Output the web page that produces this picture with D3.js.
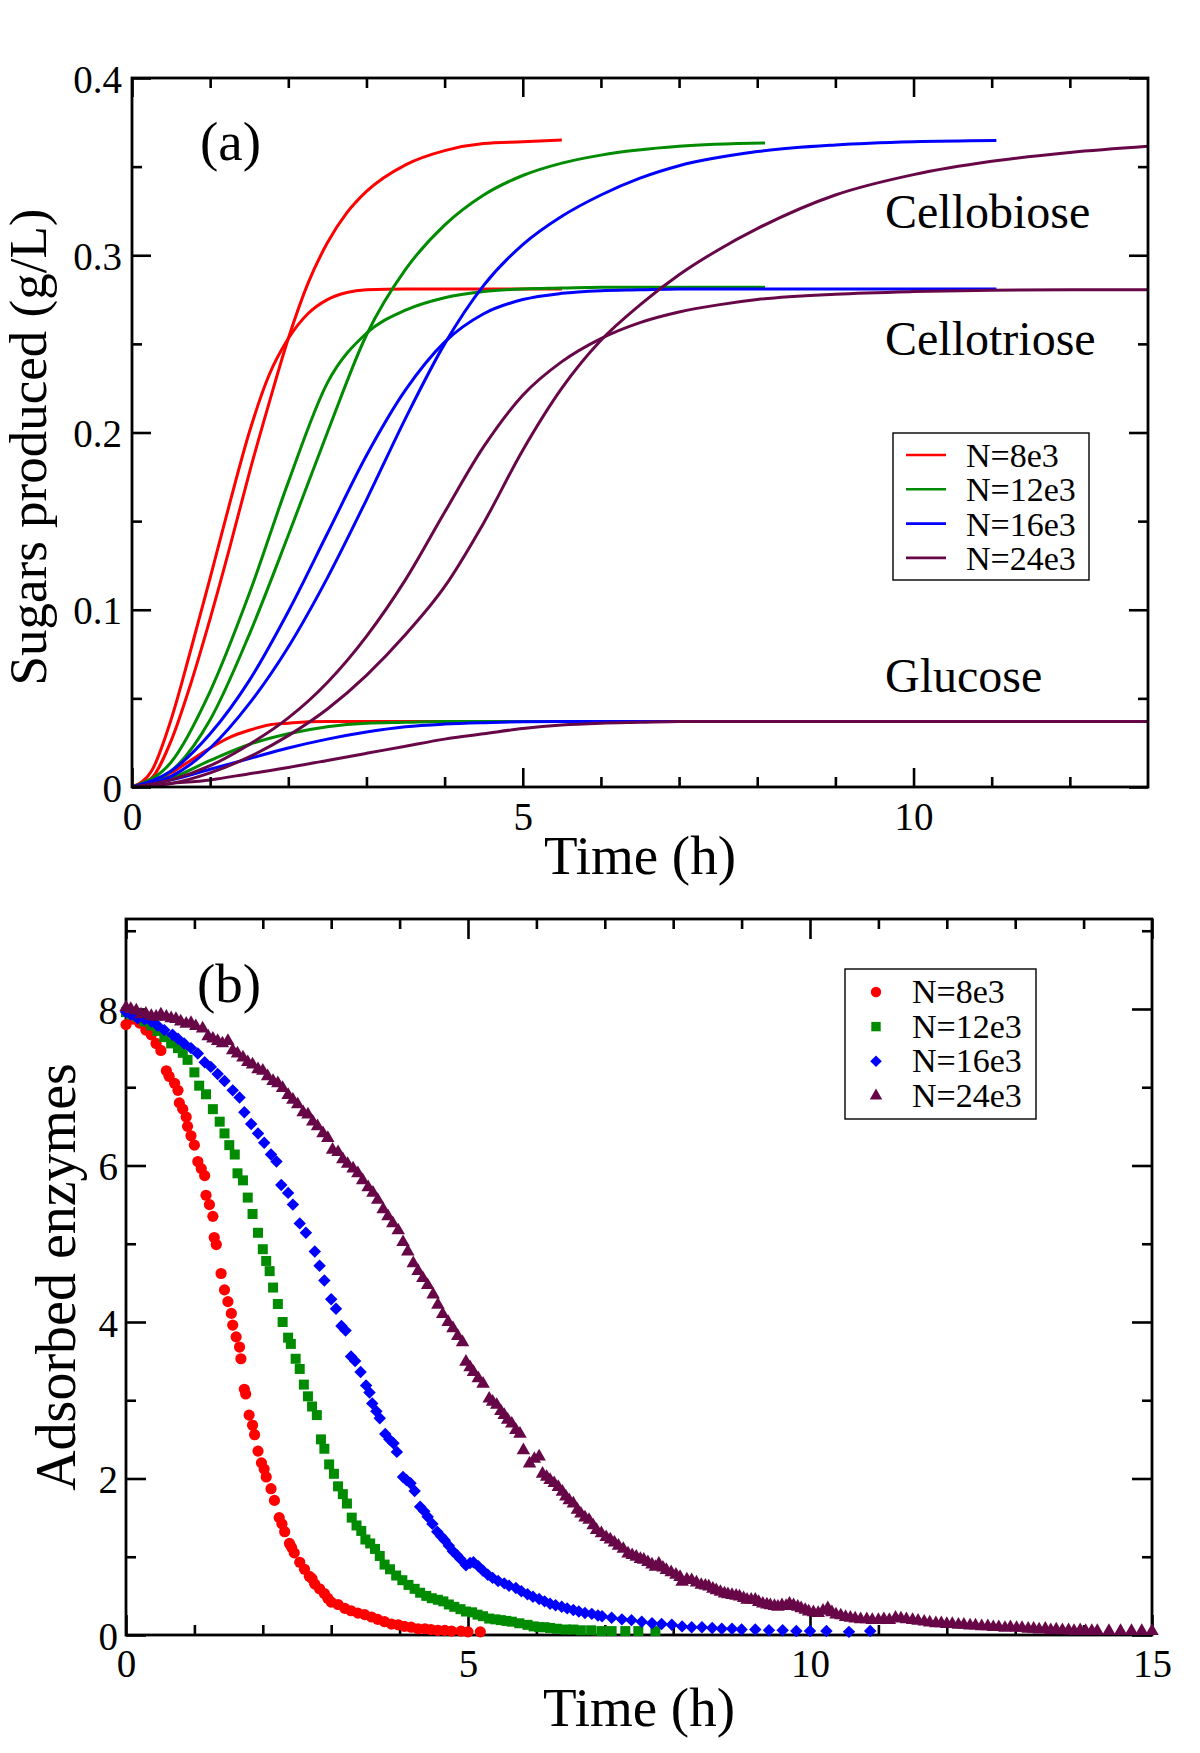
<!DOCTYPE html>
<html><head><meta charset="utf-8">
<script src="https://cdn.jsdelivr.net/npm/d3@7"></script>
<style>
html,body{margin:0;padding:0;background:#fff;}
svg{display:block;}
text{font-family:"Liberation Serif","Times New Roman",serif;fill:#000;}
</style></head><body>
<svg id="chart" width="1200" height="1753"></svg>
<script>
// ---------------- DATA ----------------
const seriesLabels = ["N=8e3", "N=12e3", "N=16e3", "N=24e3"];
const seriesColors = ["#ff0000", "#008b00", "#0000ff", "#670748"];

// Panel (a): sugars produced (g/L) vs time (h)
const timeN8  = [0,0.25,0.5,0.75,1,1.25,1.5,1.75,2,2.25,2.5,2.75,3,3.5,4,4.5,5,5.5];
const cellobioseN8  = [0,0.005,0.026,0.058,0.095,0.135,0.177,0.216,0.253,0.284,0.307,0.324,0.336,0.351,0.359,0.363,0.364,0.365];
const cellotrioseN8 = [0,0.009,0.038,0.077,0.118,0.16,0.2,0.232,0.253,0.267,0.275,0.279,0.2805,0.281,0.281,0.281,0.281,0.281];
const glucoseN8     = [0,0.002,0.008,0.015,0.022,0.028,0.032,0.035,0.036,0.0368,0.037,0.037,0.037,0.037,0.037,0.037,0.037,0.037];

const timeN12 = [0,0.5,1,1.5,2,2.5,3,3.5,4,4.5,5,5.5,6,7,8.1];
const cellobioseN12  = [0,0.009,0.038,0.086,0.142,0.2,0.255,0.292,0.317,0.334,0.345,0.352,0.3565,0.3615,0.3633];
const cellotrioseN12 = [0,0.014,0.054,0.109,0.172,0.228,0.256,0.269,0.276,0.2795,0.281,0.2815,0.282,0.282,0.282];
const glucoseN12     = [0,0.005,0.015,0.024,0.03,0.034,0.036,0.0365,0.037,0.037,0.037,0.037,0.037,0.037,0.037];

const timeN16 = [0,0.5,1,1.5,2,2.5,3,3.5,4,4.5,5,5.5,6,6.5,7,8,9,10,11.06];
const cellobioseN16  = [0,0.006,0.022,0.047,0.079,0.118,0.162,0.208,0.25,0.283,0.306,0.322,0.334,0.3435,0.3505,0.3585,0.3622,0.364,0.3647];
const cellotrioseN16 = [0,0.009,0.03,0.06,0.099,0.143,0.187,0.224,0.251,0.267,0.275,0.2785,0.28,0.2805,0.281,0.281,0.281,0.281,0.281];
const glucoseN16     = [0,0.004,0.01,0.016,0.022,0.027,0.031,0.034,0.0355,0.0363,0.0368,0.037,0.037,0.037,0.037,0.037,0.037,0.037,0.037];

const timeN24 = [0,0.5,1,1.5,2,2.5,3,3.5,4,4.5,5,5.5,6,6.5,7,7.5,8,9,10,11,12,13];
const cellobioseN24  = [0,0.002,0.008,0.017,0.029,0.044,0.063,0.086,0.113,0.149,0.19,0.225,0.252,0.272,0.289,0.303,0.315,0.334,0.3455,0.353,0.358,0.3615];
const cellotrioseN24 = [0,0.004,0.012,0.024,0.039,0.059,0.085,0.117,0.155,0.192,0.221,0.24,0.253,0.262,0.268,0.272,0.275,0.278,0.2795,0.2803,0.2805,0.2805];
const glucoseN24     = [0,0.002,0.004,0.0075,0.011,0.015,0.019,0.023,0.027,0.03,0.033,0.035,0.036,0.0365,0.037,0.037,0.037,0.037,0.037,0.037,0.037,0.037];

const xTicksA = [0,5,10];
const xMinorA = [1,2,3,4,6,7,8,9,11,12];
const yTicksA = [0,0.1,0.2,0.3,0.4];
const yTickLabelsA = ["0","0.1","0.2","0.3","0.4"];
const yMinorA = [0.05,0.15,0.25,0.35];

// Panel (b): adsorbed enzymes vs time (h), [time, value]
const adsorbedN8 = [[0,7.8],[0.1,7.87],[0.2,7.82],[0.29,7.73],[0.37,7.67],[0.44,7.56],[0.51,7.47],[0.59,7.21],[0.63,7.14],[0.71,7.05],[0.76,6.96],[0.78,6.8],[0.83,6.72],[0.88,6.62],[0.9,6.5],[0.95,6.38],[1.0,6.26],[1.05,6.05],[1.1,5.96],[1.15,5.87],[1.17,5.62],[1.22,5.5],[1.27,5.35],[1.29,5.08],[1.32,4.99],[1.39,4.62],[1.44,4.41],[1.49,4.26],[1.54,4.11],[1.56,3.96],[1.61,3.81],[1.66,3.68],[1.68,3.53],[1.73,3.14],[1.75,3.08],[1.8,2.81],[1.85,2.68],[1.88,2.56],[1.93,2.35],[1.98,2.2],[2.02,2.12],[2.05,2.02],[2.12,1.87],[2.17,1.72],[2.24,1.5],[2.28,1.42],[2.32,1.32],[2.39,1.17],[2.42,1.12],[2.46,1.05],[2.54,0.93],[2.61,0.84],[2.68,0.75],[2.72,0.72],[2.76,0.65],[2.83,0.59],[2.9,0.53],[2.95,0.47],[3.0,0.42],[3.1,0.39],[3.2,0.34],[3.29,0.31],[3.39,0.28],[3.49,0.26],[3.59,0.23],[3.68,0.2],[3.78,0.17],[3.88,0.14],[3.98,0.13],[4.07,0.11],[4.17,0.1],[4.27,0.08],[4.37,0.08],[4.46,0.07],[4.56,0.06],[4.66,0.06],[4.76,0.05],[4.9,0.05],[5.0,0.04],[5.18,0.04]];
const adsorbedN12 = [[0,7.96],[0.07,7.93],[0.17,7.9],[0.27,7.84],[0.37,7.79],[0.46,7.72],[0.56,7.64],[0.66,7.56],[0.76,7.5],[0.83,7.44],[0.9,7.35],[1.0,7.19],[1.07,7.02],[1.17,6.91],[1.27,6.72],[1.37,6.56],[1.44,6.41],[1.51,6.26],[1.59,6.14],[1.63,5.9],[1.71,5.81],[1.78,5.59],[1.85,5.38],[1.93,5.14],[2.0,4.93],[2.05,4.78],[2.1,4.65],[2.15,4.44],[2.22,4.23],[2.29,4.0],[2.37,3.8],[2.41,3.72],[2.48,3.53],[2.54,3.4],[2.6,3.2],[2.66,3.05],[2.72,2.92],[2.79,2.81],[2.85,2.5],[2.9,2.38],[2.97,2.18],[3.04,2.06],[3.1,1.9],[3.17,1.8],[3.23,1.68],[3.3,1.5],[3.37,1.4],[3.44,1.33],[3.5,1.22],[3.57,1.17],[3.64,1.1],[3.71,1.01],[3.78,0.9],[3.86,0.84],[3.95,0.76],[4.04,0.7],[4.13,0.64],[4.22,0.59],[4.3,0.54],[4.39,0.5],[4.47,0.47],[4.56,0.45],[4.64,0.43],[4.72,0.39],[4.8,0.36],[4.89,0.33],[4.97,0.3],[5.06,0.29],[5.14,0.26],[5.22,0.24],[5.31,0.21],[5.4,0.2],[5.48,0.19],[5.56,0.18],[5.64,0.17],[5.75,0.15],[5.87,0.13],[5.96,0.11],[6.04,0.1],[6.12,0.1],[6.2,0.09],[6.3,0.08],[6.43,0.07],[6.54,0.07],[6.65,0.06],[6.8,0.06],[6.95,0.05],[7.1,0.05],[7.3,0.05],[7.49,0.05],[7.74,0.05]];
const adsorbedN16 = [[0,7.96],[0.07,7.93],[0.17,7.88],[0.27,7.87],[0.37,7.84],[0.46,7.79],[0.56,7.73],[0.68,7.67],[0.76,7.62],[0.85,7.56],[0.95,7.5],[1.05,7.43],[1.15,7.32],[1.24,7.26],[1.34,7.17],[1.44,7.08],[1.56,6.96],[1.66,6.87],[1.73,6.68],[1.83,6.53],[1.93,6.41],[2.02,6.29],[2.12,6.14],[2.2,6.05],[2.27,5.75],[2.37,5.65],[2.44,5.5],[2.54,5.26],[2.63,5.14],[2.76,4.9],[2.83,4.72],[2.9,4.53],[3.0,4.29],[3.07,4.17],[3.15,3.95],[3.21,3.89],[3.29,3.56],[3.35,3.5],[3.43,3.36],[3.51,3.19],[3.56,3.1],[3.6,2.96],[3.66,2.86],[3.71,2.77],[3.79,2.57],[3.85,2.5],[3.91,2.45],[3.96,2.34],[4.05,2.02],[4.1,1.98],[4.16,1.94],[4.22,1.84],[4.3,1.64],[4.36,1.58],[4.41,1.51],[4.48,1.42],[4.55,1.32],[4.61,1.26],[4.66,1.21],[4.72,1.14],[4.78,1.07],[4.84,1.02],[4.89,0.97],[4.97,0.89],[5.03,0.92],[5.08,0.93],[5.15,0.88],[5.22,0.82],[5.29,0.77],[5.36,0.73],[5.44,0.69],[5.53,0.66],[5.6,0.63],[5.7,0.6],[5.78,0.56],[5.87,0.52],[5.95,0.49],[6.04,0.46],[6.12,0.43],[6.2,0.4],[6.28,0.38],[6.37,0.36],[6.45,0.34],[6.54,0.32],[6.62,0.3],[6.71,0.28],[6.81,0.27],[6.9,0.25],[6.96,0.24],[7.1,0.22],[7.25,0.2],[7.39,0.19],[7.54,0.17],[7.69,0.15],[7.83,0.14],[7.98,0.13],[8.13,0.11],[8.27,0.1],[8.42,0.1],[8.57,0.09],[8.71,0.08],[8.86,0.08],[9.0,0.07],[9.2,0.07],[9.4,0.06],[9.6,0.06],[9.8,0.05],[10.0,0.05],[10.24,0.05],[10.57,0.04],[10.88,0.05]];
const adsorbedN24 = [[0,8.02],[0.07,8.0],[0.15,7.98],[0.22,7.93],[0.29,7.94],[0.37,7.91],[0.44,7.9],[0.51,7.93],[0.59,7.9],[0.66,7.88],[0.73,7.87],[0.8,7.84],[0.88,7.81],[0.95,7.82],[1.02,7.78],[1.12,7.75],[1.2,7.65],[1.27,7.62],[1.34,7.59],[1.41,7.56],[1.49,7.59],[1.56,7.47],[1.63,7.43],[1.71,7.38],[1.78,7.32],[1.85,7.29],[1.93,7.23],[2.0,7.21],[2.07,7.14],[2.15,7.08],[2.22,7.05],[2.29,6.99],[2.37,6.9],[2.44,6.84],[2.51,6.78],[2.59,6.68],[2.66,6.65],[2.73,6.56],[2.8,6.5],[2.88,6.41],[2.95,6.35],[3.02,6.2],[3.1,6.17],[3.17,6.08],[3.24,6.02],[3.32,5.96],[3.39,5.9],[3.46,5.81],[3.54,5.72],[3.61,5.65],[3.68,5.56],[3.76,5.44],[3.83,5.35],[3.9,5.26],[3.98,5.17],[4.05,5.02],[4.12,4.9],[4.2,4.75],[4.27,4.65],[4.34,4.56],[4.41,4.47],[4.49,4.35],[4.56,4.22],[4.63,4.1],[4.71,4.0],[4.78,3.92],[4.85,3.82],[4.92,3.74],[4.97,3.49],[5.03,3.42],[5.08,3.36],[5.15,3.28],[5.22,3.21],[5.31,3.02],[5.36,2.98],[5.42,2.94],[5.48,2.86],[5.53,2.81],[5.58,2.75],[5.64,2.7],[5.7,2.62],[5.76,2.57],[5.81,2.36],[5.9,2.19],[5.97,2.25],[6.04,2.28],[6.09,2.06],[6.15,2.02],[6.2,1.98],[6.26,1.94],[6.32,1.89],[6.38,1.83],[6.43,1.77],[6.48,1.72],[6.54,1.68],[6.6,1.6],[6.65,1.55],[6.71,1.5],[6.77,1.47],[6.83,1.4],[6.88,1.34],[6.95,1.3],[7.02,1.25],[7.08,1.22],[7.14,1.18],[7.2,1.14],[7.27,1.1],[7.34,1.04],[7.4,1.02],[7.46,1.0],[7.52,0.97],[7.57,0.96],[7.63,0.93],[7.69,0.9],[7.74,0.87],[7.79,0.91],[7.85,0.86],[7.9,0.83],[7.97,0.8],[8.04,0.77],[8.1,0.74],[8.13,0.68],[8.2,0.71],[8.27,0.7],[8.34,0.67],[8.41,0.64],[8.47,0.63],[8.52,0.62],[8.58,0.59],[8.63,0.57],[8.69,0.55],[8.75,0.53],[8.8,0.52],[8.86,0.51],[8.92,0.5],[8.97,0.49],[9.03,0.47],[9.08,0.45],[9.14,0.45],[9.2,0.45],[9.25,0.42],[9.31,0.4],[9.37,0.39],[9.42,0.38],[9.48,0.37],[9.53,0.36],[9.59,0.38],[9.65,0.37],[9.7,0.4],[9.76,0.38],[9.82,0.36],[9.87,0.34],[9.93,0.32],[9.98,0.3],[10.05,0.29],[10.12,0.28],[10.19,0.31],[10.26,0.34],[10.32,0.29],[10.38,0.26],[10.45,0.25],[10.52,0.23],[10.59,0.22],[10.66,0.21],[10.74,0.2],[10.83,0.2],[10.91,0.19],[11.0,0.19],[11.08,0.2],[11.16,0.19],[11.25,0.22],[11.33,0.21],[11.41,0.2],[11.5,0.19],[11.58,0.18],[11.67,0.17],[11.75,0.16],[11.84,0.15],[11.92,0.15],[12.0,0.14],[12.08,0.14],[12.17,0.13],[12.25,0.13],[12.34,0.12],[12.42,0.12],[12.51,0.11],[12.6,0.11],[12.68,0.1],[12.76,0.1],[12.85,0.09],[12.93,0.1],[13.02,0.09],[13.1,0.09],[13.19,0.08],[13.27,0.08],[13.35,0.07],[13.44,0.08],[13.52,0.06],[13.6,0.07],[13.69,0.06],[13.78,0.06],[13.86,0.05],[13.95,0.06],[14.03,0.05],[14.12,0.05],[14.2,0.05],[14.37,0.05],[14.54,0.05],[14.7,0.05],[14.85,0.05],[15.0,0.05]];

const xTicksB = [0,5,10,15];
const xMinorB = [1,2,3,4,6,7,8,9,11,12,13,14];
const yTicksB = [0,2,4,6,8];
const yMinorB = [1,3,5,7,9];

// ---------------- DRAWING ----------------
const svg = d3.select('#chart');
svg.append('rect').attr('width',1200).attr('height',1753).attr('fill','#fff');

function drawAxes(box, x, y, o) {
  const g = svg.append('g');
  const setup = sel => {
    sel.attr('font-size', null).attr('font-family', null);
    sel.select('.domain').remove();
    sel.selectAll('line').attr('stroke', '#000').attr('stroke-width', 2.6);
  };
  const b1 = g.append('g').attr('transform', `translate(0,${box.bottom})`)
    .call(d3.axisBottom(x).tickValues(o.xMajor).tickSize(-o.major).tickFormat(o.xFmt));
  setup(b1);
  b1.selectAll('text').attr('dy', null).attr('y', o.xLabelDy).style('font-size', o.tickFont + 'px');
  const b2 = g.append('g').attr('transform', `translate(0,${box.bottom})`)
    .call(d3.axisBottom(x).tickValues(o.xMinor).tickSize(-o.minor).tickFormat(''));
  setup(b2);
  const t1 = g.append('g').attr('transform', `translate(0,${box.top})`)
    .call(d3.axisTop(x).tickValues(o.xMajor).tickSize(-o.major).tickFormat(''));
  setup(t1);
  const t2 = g.append('g').attr('transform', `translate(0,${box.top})`)
    .call(d3.axisTop(x).tickValues(o.xMinor).tickSize(-o.minor).tickFormat(''));
  setup(t2);
  const l1 = g.append('g').attr('transform', `translate(${box.left},0)`)
    .call(d3.axisLeft(y).tickValues(o.yMajor).tickSize(-o.major).tickPadding(o.yLabelPad).tickFormat(o.yFmt));
  setup(l1);
  l1.selectAll('text').attr('dy', '0.36em').style('font-size', o.tickFont + 'px');
  const l2 = g.append('g').attr('transform', `translate(${box.left},0)`)
    .call(d3.axisLeft(y).tickValues(o.yMinor).tickSize(-o.minor).tickFormat(''));
  setup(l2);
  const r1 = g.append('g').attr('transform', `translate(${box.right},0)`)
    .call(d3.axisRight(y).tickValues(o.yMajor).tickSize(-o.major).tickFormat(''));
  setup(r1);
  const r2 = g.append('g').attr('transform', `translate(${box.right},0)`)
    .call(d3.axisRight(y).tickValues(o.yMinor).tickSize(-o.minor).tickFormat(''));
  setup(r2);
  g.append('rect').attr('x', box.left).attr('y', box.top)
    .attr('width', box.right - box.left).attr('height', box.bottom - box.top)
    .attr('fill', 'none').attr('stroke', '#000').attr('stroke-width', 2.8);
}

// ---- Panel (a) ----
const A = {left:132, right:1148, top:78, bottom:787};
const xA = d3.scaleLinear().domain([0,13]).range([A.left, A.right]);
const yA = d3.scaleLinear().domain([0,0.4]).range([A.bottom, A.top]);

const curvesA = [
  {t: timeN8,  sets: [glucoseN8,  cellotrioseN8,  cellobioseN8]},
  {t: timeN12, sets: [glucoseN12, cellotrioseN12, cellobioseN12]},
  {t: timeN16, sets: [glucoseN16, cellotrioseN16, cellobioseN16]},
  {t: timeN24, sets: [glucoseN24, cellotrioseN24, cellobioseN24]}
];
const lineA = d3.line().x(d => xA(d[0])).y(d => yA(d[1])).curve(d3.curveMonotoneX);
const gA = svg.append('g');
curvesA.forEach((c, i) => {
  c.sets.forEach(vals => {
    const pts = c.t.map((t, k) => [t, vals[k]]);
    gA.append('path').attr('d', lineA(pts)).attr('fill', 'none')
      .attr('stroke', seriesColors[i]).attr('stroke-width', 3).attr('stroke-linejoin', 'round');
  });
});

drawAxes(A, xA, yA, {
  xMajor: xTicksA, xMinor: xMinorA, yMajor: yTicksA, yMinor: yMinorA,
  xFmt: d => String(d), yFmt: (d, i) => yTickLabelsA[i],
  major: 19, minor: 10, tickFont: 39, xLabelDy: 43, yLabelPad: 10
});

const legA = svg.append('g');
legA.append('rect').attr('x', 893).attr('y', 433).attr('width', 196).attr('height', 147)
  .attr('fill', '#fff').attr('stroke', '#000').attr('stroke-width', 1.4);
seriesLabels.forEach((lab, i) => {
  const yy = 455 + i * 34.3;
  legA.append('line').attr('x1', 906).attr('x2', 946).attr('y1', yy).attr('y2', yy)
    .attr('stroke', seriesColors[i]).attr('stroke-width', 2.6);
  legA.append('text').attr('x', 966).attr('y', yy + 12).style('font-size', '34px').text(lab);
});

svg.append('text').attr('x', 200).attr('y', 160).style('font-size', '55px').text('(a)');
svg.append('text').attr('x', 885).attr('y', 228).style('font-size', '48px').text('Cellobiose');
svg.append('text').attr('x', 885).attr('y', 355).style('font-size', '48px').text('Cellotriose');
svg.append('text').attr('x', 885).attr('y', 692).style('font-size', '48px').text('Glucose');
svg.append('text').attr('x', 640).attr('y', 874).attr('text-anchor', 'middle').style('font-size', '55px').text('Time (h)');
svg.append('text').attr('transform', 'translate(46,447) rotate(-90)').attr('text-anchor', 'middle')
  .style('font-size', '53px').text('Sugars produced (g/L)');

// ---- Panel (b) ----
const B = {left:126, right:1152, top:919, bottom:1635};
const xB = d3.scaleLinear().domain([0,15]).range([B.left, B.right]);
const yB = d3.scaleLinear().domain([0,9.15]).range([B.bottom, B.top]);

const symbolsB = [
  d3.symbol().type(d3.symbolCircle).size(Math.PI * 5.6 * 5.6),
  d3.symbol().type(d3.symbolSquare).size(10 * 10),
  d3.symbol().type(d3.symbolSquare).size(8.8 * 8.8),
  d3.symbol().type(d3.symbolTriangle).size(13.5 * 13.5 * Math.sqrt(3) / 4)
];
const legendSymbolsB = [
  d3.symbol().type(d3.symbolCircle).size(Math.PI * 5.2 * 5.2),
  d3.symbol().type(d3.symbolSquare).size(9.4 * 9.4),
  d3.symbol().type(d3.symbolSquare).size(8.2 * 8.2),
  d3.symbol().type(d3.symbolTriangle).size(12.5 * 12.5 * Math.sqrt(3) / 4)
];
const rotB = [0, 0, 45, 0];
const dataB = [adsorbedN8, adsorbedN12, adsorbedN16, adsorbedN24];

drawAxes(B, xB, yB, {
  xMajor: xTicksB, xMinor: xMinorB, yMajor: yTicksB, yMinor: yMinorB,
  xFmt: d => String(d), yFmt: d => String(d),
  major: 20, minor: 10, tickFont: 39, xLabelDy: 42, yLabelPad: 8
});

const gB = svg.append('g');
dataB.forEach((ser, i) => {
  gB.append('g').selectAll('path').data(ser).join('path')
    .attr('d', symbolsB[i]())
    .attr('transform', d => `translate(${xB(d[0])},${yB(d[1])}) rotate(${rotB[i]})`)
    .attr('fill', seriesColors[i]);
});

const legB = svg.append('g');
legB.append('rect').attr('x', 845).attr('y', 969).attr('width', 191).attr('height', 150)
  .attr('fill', '#fff').attr('stroke', '#000').attr('stroke-width', 1.4);
seriesLabels.forEach((lab, i) => {
  const yy = 992 + i * 34.6;
  legB.append('path').attr('d', legendSymbolsB[i]())
    .attr('transform', `translate(876,${yy}) rotate(${rotB[i]})`).attr('fill', seriesColors[i]);
  legB.append('text').attr('x', 912).attr('y', yy + 11).style('font-size', '34px').text(lab);
});

svg.append('text').attr('x', 197).attr('y', 1002).style('font-size', '55px').text('(b)');
svg.append('text').attr('x', 639).attr('y', 1726).attr('text-anchor', 'middle').style('font-size', '55px').text('Time (h)');
svg.append('text').attr('transform', 'translate(75,1277) rotate(-90)').attr('text-anchor', 'middle')
  .style('font-size', '56px').text('Adsorbed enzymes');
</script></body></html>
